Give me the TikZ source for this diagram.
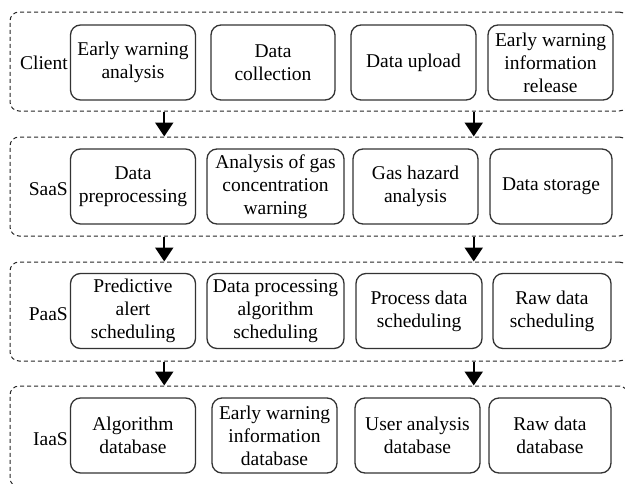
\documentclass[tikz,border=0pt]{standalone}
\usepackage{fontspec}
\setmainfont{LiberationSerif}[Extension=.ttf, UprightFont=*-Regular, BoldFont=*-Bold]
\usetikzlibrary{arrows.meta,calc}

\tikzset{
  layer/.style={draw=black!85, dash pattern=on 4pt off 3pt, line width=1pt,
    rounded corners=9pt, minimum width=618pt, minimum height=99pt},
  unit/.style={draw=black!80, line width=1.3pt, rounded corners=10pt,
    minimum width=125pt, minimum height=75pt, align=center, inner sep=0pt},
  tag/.style={anchor=east, inner sep=1pt},
  down/.style={line width=2pt, -{Triangle[width=18pt,length=14pt]}}
}

\begin{document}
\begin{tikzpicture}[x=1pt, y=-1pt, font=\fontsize{19.5}{23}\selectfont]
      \useasboundingbox (0,0) rectangle (625,483);
      % layers
      \node[layer] (client) at (319,61.5) {};
      \node[layer] (saas) at (319,186.5) {};
      \node[layer] (paas) at (319,311.5) {};
      \node[layer, minimum height=101pt] (iaas) at (319,436.5) {};
      \node[tag] (clientname) at (69,63) {Client};
      \node[tag] (saasname) at (69,189) {SaaS};
      \node[tag] (paasname) at (69,314) {PaaS};
      \node[tag] (iaasname) at (69,439) {IaaS};
      % client
      \node[unit] (c1) at (133,62.5) {Early warning\\analysis};
      \node[unit, minimum width=124pt] (c2) at (273,62.5) {Data\\collection};
      \node[unit] (c3) at (413.5,62.5) {Data upload};
      \node[unit] (c4) at (550.5,62.5) {Early warning\\information\\release};
      % saas
      \node[unit] (s1) at (133,186.5) {Data\\preprocessing};
      \node[unit, minimum width=137pt] (s2) at (275.5,186.5) {Analysis of gas\\concentration\\warning};
      \node[unit] (s3) at (415.5,186.5) {Gas hazard\\analysis};
      \node[unit, minimum width=122pt] (s4) at (551,186.5) {Data storage};
      % paas
      \node[unit] (p1) at (133,311) {Predictive\\alert\\scheduling};
      \node[unit, minimum width=137pt] (p2) at (275.5,311) {Data processing\\algorithm\\scheduling};
      \node[unit, minimum width=126pt] (p3) at (419,311) {Process data\\scheduling};
      \node[unit, minimum width=118pt] (p4) at (552,311) {Raw data\\scheduling};
      % iaas
      \node[unit] (i1) at (133,435.5) {Algorithm\\database};
      \node[unit] (i2) at (274.5,435.5) {Early warning\\information\\database};
      \node[unit] (i3) at (417.5,435.5) {User analysis\\database};
      \node[unit, minimum width=122pt] (i4) at (550,435.5) {Raw data\\database};
      \begin{scope}[down]
        \draw ($(client.south west)!.25!(client.south east)$) -- ($(saas.north west)!.25!(saas.north east)$);
        \draw ($(client.south west)!.75!(client.south east)$) -- ($(saas.north west)!.75!(saas.north east)$);
        \draw ($(saas.south west)!.25!(saas.south east)$) -- ($(paas.north west)!.25!(paas.north east)$);
        \draw ($(saas.south west)!.75!(saas.south east)$) -- ($(paas.north west)!.75!(paas.north east)$);
        \draw ($(paas.south west)!.25!(paas.south east)$) -- ($(iaas.north west)!.25!(iaas.north east)$);
        \draw ($(paas.south west)!.75!(paas.south east)$) -- ($(iaas.north west)!.75!(iaas.north east)$);
      \end{scope}
    \end{tikzpicture}
\end{document}
